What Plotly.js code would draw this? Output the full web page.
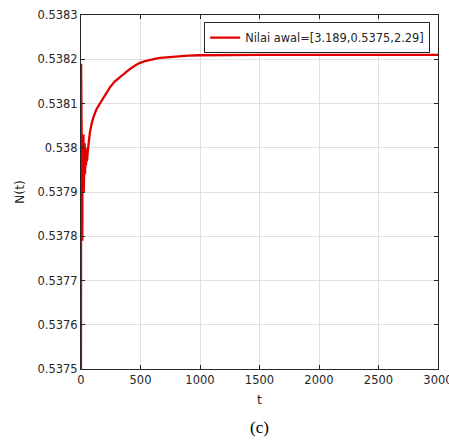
<!DOCTYPE html>
<html>
<head>
<meta charset="utf-8">
<script src="https://cdn.plot.ly/plotly-3.0.1.min.js"></script>
<style>html,body{margin:0;padding:0;background:#fff;}#plot{width:449px;height:447px;}</style>
</head>
<body>
<div id="plot"></div>
<script>
const tValues = [0, 1, 2, 3, 5, 7, 9, 11, 13, 15, 17, 19, 21, 23, 25, 28, 31, 34, 38, 42, 46, 50, 60, 70, 76, 90, 103, 130, 160, 200, 244, 285, 328, 370, 412, 455, 496, 540, 580, 620, 664, 750, 832, 900, 1000, 1200, 1500, 2000, 2500, 3000];
const nValues = [0.5375, 0.53819, 0.53815, 0.53778, 0.53804, 0.5379, 0.53802, 0.53779, 0.53803, 0.5379, 0.53801, 0.53795, 0.53803, 0.5379, 0.538, 0.53795, 0.53801, 0.53794, 0.538, 0.53796, 0.53798, 0.53797, 0.538, 0.538025, 0.538037, 0.538055, 0.538068, 0.538087, 0.5381, 0.53812, 0.538137, 0.53815, 0.53816, 0.53817, 0.538178, 0.538186, 0.538192, 0.538196, 0.538199, 0.538201, 0.538203, 0.538205, 0.538207, 0.538208, 0.538209, 0.53821, 0.53821, 0.53821, 0.53821, 0.53821];
const seriesName = 'Nilai awal=[3.189,0.5375,2.29]';
const xTickVals = [0, 500, 1000, 1500, 2000, 2500, 3000];
const xTickText = ['0', '500', '1000', '1500', '2000', '2500', '3000'];
const yTickVals = [0.5375, 0.5376, 0.5377, 0.5378, 0.5379, 0.538, 0.5381, 0.5382, 0.5383];
const yTickText = ['0.5375', '0.5376', '0.5377', '0.5378', '0.5379', '0.538', '0.5381', '0.5382', '0.5383'];

const FONT = '"DejaVu Sans", Arial, sans-serif';
const axisCommon = {
  showline: true, mirror: 'ticks', linecolor: '#262626', linewidth: 1,
  ticks: 'inside', ticklen: 4, tickcolor: '#262626',
  showgrid: true, gridcolor: '#e0e0e0', gridwidth: 1,
  zeroline: false, ticklabeloverflow: 'allow',
  tickfont: {family: FONT, size: 11.5, color: '#262626'}
};

const trace = {
  x: tValues, y: nValues, type: 'scatter', mode: 'lines', name: seriesName,
  line: {color: '#e00000', width: 2.3}
};

const layout = {
  width: 449, height: 447,
  margin: {l: 81, r: 11, t: 15, b: 78},
  paper_bgcolor: '#fff', plot_bgcolor: '#fff',
  showlegend: true,
  legend: {
    x: 0.345, y: 0.98, xanchor: 'left', yanchor: 'top',
    bgcolor: '#fff', bordercolor: '#262626', borderwidth: 1,
    font: {family: FONT, size: 11.4, color: '#262626'},
    itemwidth: 30, tracegroupgap: 0
  },
  xaxis: Object.assign({}, axisCommon, {
    range: [0, 3000], tickvals: xTickVals, ticktext: xTickText,
    title: {text: 't', font: {family: FONT, size: 12.5, color: '#262626'}, standoff: 9}
  }),
  yaxis: Object.assign({}, axisCommon, {
    range: [0.5375, 0.5383], tickvals: yTickVals, ticktext: yTickText,
    title: {text: 'N(t)', font: {family: FONT, size: 12.5, color: '#262626'}, standoff: 10}
  }),
  annotations: [{
    text: '(c)', xref: 'paper', yref: 'paper', x: 0.5, y: -0.165, xanchor: 'center', yanchor: 'middle',
    showarrow: false, font: {family: '"Liberation Serif", "Times New Roman", serif', size: 17, color: '#000'}
  }]
};

Plotly.newPlot('plot', [trace], layout, {displayModeBar: false, staticPlot: true});
</script>
</body>
</html>
